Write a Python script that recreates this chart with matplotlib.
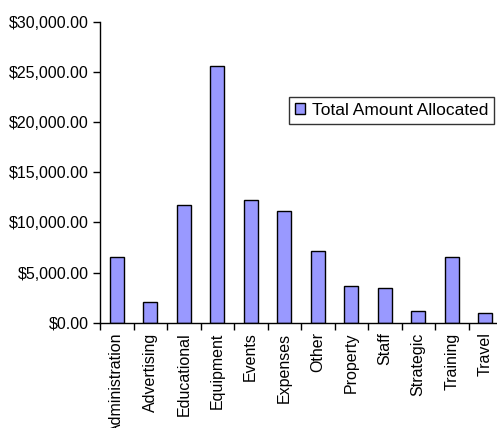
import numpy as np
import matplotlib.pyplot as plt
from matplotlib.ticker import FuncFormatter, FixedLocator

plt.rcParams['font.family'] = ['Liberation Sans', 'DejaVu Sans']

categories = ['Administration', 'Advertising', 'Educational', 'Equipment', 'Events',
              'Expenses', 'Other', 'Property', 'Staff', 'Strategic', 'Training', 'Travel']
amounts = [6550, 2030, 11760, 25550, 12200, 11160, 7100, 3650, 3500, 1150, 6550, 1000]
series_name = 'Total Amount Allocated'

fig = plt.figure(figsize=(4.97, 4.28), dpi=100)
ax = fig.add_axes([100 / 497, 1 - 322.7 / 428, 402 / 497, 301 / 428])

x = np.arange(len(categories))
ax.bar(x, amounts, width=0.43, color='#9999FF', edgecolor='black', linewidth=1,
       label=series_name)

ax.set_xlim(-0.5, len(categories) - 0.5)
ax.set_ylim(0, 30000)
ax.set_yticks(np.arange(0, 30001, 5000))
ax.yaxis.set_major_formatter(FuncFormatter(lambda v, p: '${:,.2f}'.format(v)))
ax.tick_params(axis='y', direction='out', length=5, width=1, labelsize=11.5, pad=3)

ax.set_xticks(x)
ax.set_xticklabels(categories, rotation=90, fontsize=11.5)
ax.tick_params(axis='x', which='major', length=0, pad=7)
ax.xaxis.set_minor_locator(FixedLocator(np.arange(-0.5, len(categories), 1)))
ax.tick_params(axis='x', which='minor', direction='out', length=5, width=1)

for s in ['top', 'right']:
    ax.spines[s].set_visible(False)
for s in ['left', 'bottom']:
    ax.spines[s].set_linewidth(1)

leg = ax.legend(loc='upper left', bbox_to_anchor=(289 / 497, 1 - 96.7 / 428),
                bbox_transform=fig.transFigure, fontsize=12.5, frameon=True,
                fancybox=False, edgecolor='black', handlelength=0.6, handleheight=0.6,
                handletextpad=0.35, borderpad=0.35, borderaxespad=0)
leg.get_frame().set_linewidth(1)

plt.savefig('out.png', dpi=100)
